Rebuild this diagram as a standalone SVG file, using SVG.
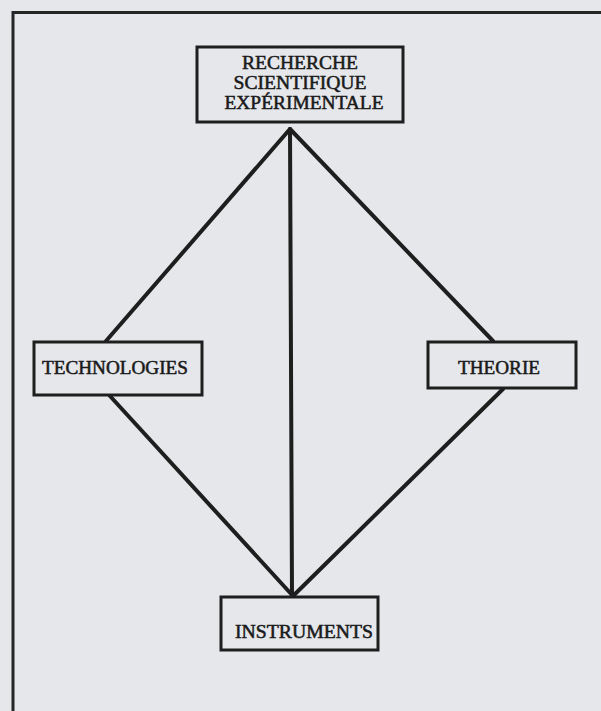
<svg xmlns="http://www.w3.org/2000/svg" width="601" height="711" viewBox="0 0 601 711">
<style>
.box{fill:none;stroke:#1e1e1e;stroke-width:3}
.lbl{font-family:"Liberation Serif","Times New Roman",serif;font-size:18px;fill:#1a1a1a;stroke:#1a1a1a;stroke-width:0.5;text-anchor:middle}
.con{stroke:#1e1e1e;stroke-width:4;fill:none;stroke-linecap:round}
</style>
<rect x="0" y="0" width="601" height="711" fill="#e5e7eb"/>
<path d="M13 711 V12.5 H601" fill="none" stroke="#262626" stroke-width="3"/>
<g id="connectors">
<line class="con" x1="290" y1="129" x2="106" y2="341"/>
<line class="con" x1="290" y1="129" x2="493" y2="341"/>
<line class="con" x1="290" y1="129" x2="292" y2="596"/>
<line class="con" x1="110" y1="396" x2="293" y2="596"/>
<line class="con" x1="503" y1="389" x2="293" y2="596"/>
</g>
<g id="recherche">
<rect class="box" x="197" y="47" width="206" height="75"/>
<text class="lbl" x="300" y="69" textLength="116" lengthAdjust="spacingAndGlyphs">RECHERCHE</text>
<text class="lbl" x="300" y="89" textLength="133" lengthAdjust="spacingAndGlyphs">SCIENTIFIQUE</text>
<text class="lbl" x="304" y="109" textLength="159" lengthAdjust="spacingAndGlyphs">EXPÉRIMENTALE</text>
</g>
<g id="technologies">
<rect class="box" x="34" y="342" width="168" height="53"/>
<text class="lbl" x="115" y="374" textLength="146" lengthAdjust="spacingAndGlyphs">TECHNOLOGIES</text>
</g>
<g id="theorie">
<rect class="box" x="428" y="342" width="148" height="46"/>
<text class="lbl" x="499" y="374" textLength="82" lengthAdjust="spacingAndGlyphs">THEORIE</text>
</g>
<g id="instruments">
<rect class="box" x="221" y="597" width="157" height="53"/>
<text class="lbl" x="304" y="638" textLength="138" lengthAdjust="spacingAndGlyphs">INSTRUMENTS</text>
</g>
</svg>
